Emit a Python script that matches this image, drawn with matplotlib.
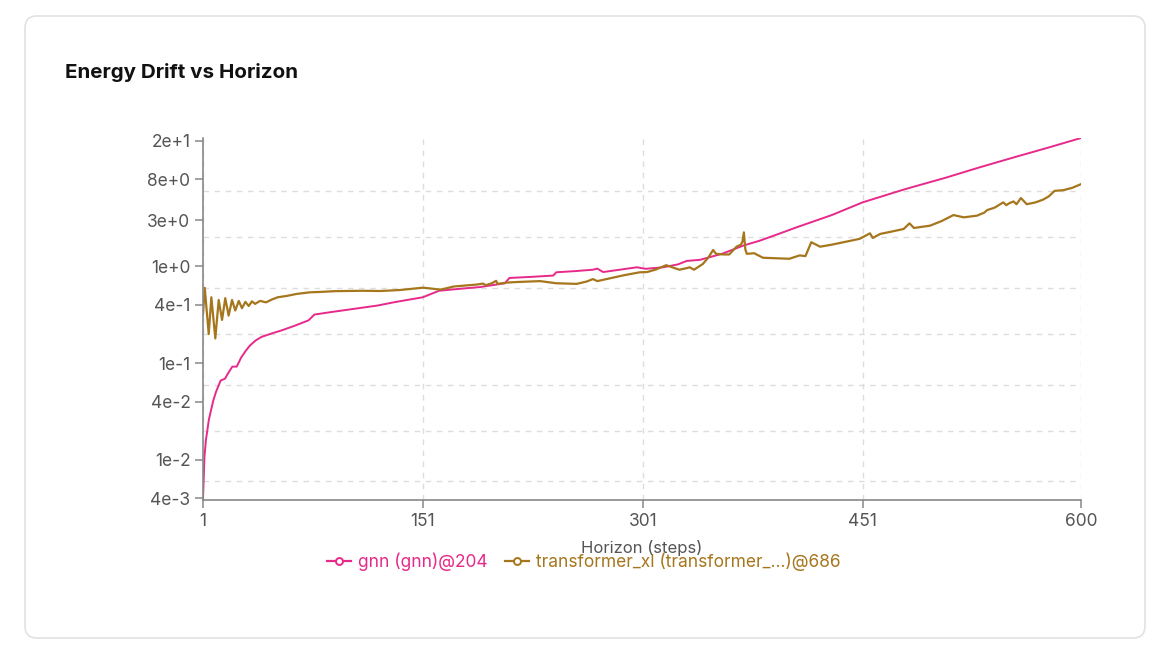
import matplotlib
matplotlib.use('Agg')
import matplotlib.pyplot as plt
from matplotlib.lines import Line2D
from matplotlib.patches import FancyBboxPatch
from matplotlib.ticker import FixedLocator, NullFormatter, FixedFormatter
from matplotlib.transforms import IdentityTransform

plt.rcParams['font.family'] = ['Inter', 'DejaVu Sans']

# values
gnn_steps = [1, 2, 3, 5, 8, 10, 13, 16, 18, 21, 24, 27, 30, 33, 37, 41, 48, 55,
             64, 73, 77, 90, 105, 120, 132, 151, 162, 175, 190, 207, 210, 225,
             240, 242, 255, 267, 270, 274, 297, 303, 315, 325, 331, 340, 355,
             370, 381, 393, 406, 430, 451, 480, 508, 530, 554, 578, 600]
gnn_values = [0.0040, 0.0108, 0.016, 0.026, 0.041, 0.051, 0.066, 0.069, 0.078,
              0.092, 0.092, 0.114, 0.133, 0.152, 0.172, 0.187, 0.203, 0.219,
              0.245, 0.277, 0.318, 0.340, 0.366, 0.394, 0.428, 0.48, 0.56,
              0.585, 0.612, 0.67, 0.76, 0.78, 0.805, 0.87, 0.895, 0.925, 0.95,
              0.875, 0.98, 0.945, 0.98, 1.05, 1.14, 1.17, 1.35, 1.65, 1.85,
              2.15, 2.54, 3.4, 4.6, 6.3, 8.3, 10.5, 13.4, 17.0, 21.3]

txl_steps = [1, 2.2, 4.9, 6.7, 9.4, 11.7, 14, 16.2, 18.5, 20.8, 23, 25.4, 27.6,
             29.9, 32.2, 34.4, 36.5, 40, 44, 48, 52, 58, 65, 74, 81, 91, 110,
             122, 135, 145, 151, 157, 163, 172, 180, 188, 192, 194, 198, 201,
             202, 208, 215, 231, 242, 256, 263, 267, 270, 278, 288, 299, 304,
             310, 317, 322, 326, 331, 333, 336, 342, 346, 349, 351, 356, 360,
             365, 368, 369, 370, 371, 372, 377, 383, 395, 401, 408, 412, 416,
             422, 430, 438, 449, 456, 458, 463, 470, 479, 483, 486, 497, 505,
             513, 520, 529, 534, 536, 541, 547, 549, 551, 554, 556, 559, 563,
             569, 574, 578, 582, 588, 594, 600]
txl_values = [0.32, 0.60, 0.20, 0.48, 0.18, 0.45, 0.28, 0.47, 0.31, 0.45, 0.35,
              0.44, 0.37, 0.43, 0.39, 0.435, 0.41, 0.44, 0.425, 0.455, 0.48,
              0.495, 0.52, 0.54, 0.545, 0.555, 0.56, 0.557, 0.57, 0.59, 0.603,
              0.59, 0.575, 0.62, 0.635, 0.65, 0.665, 0.64, 0.67, 0.71, 0.66,
              0.68, 0.69, 0.705, 0.67, 0.66, 0.70, 0.74, 0.705, 0.75, 0.81,
              0.87, 0.875, 0.93, 1.03, 0.97, 0.925, 0.96, 0.98, 0.925, 1.06,
              1.25, 1.48, 1.35, 1.33, 1.33, 1.6, 1.68, 1.8, 2.25, 1.5, 1.35,
              1.37, 1.23, 1.21, 1.2, 1.3, 1.28, 1.78, 1.6, 1.68, 1.78, 1.93,
              2.2, 1.97, 2.17, 2.28, 2.44, 2.79, 2.5, 2.64, 2.95, 3.4, 3.22,
              3.35, 3.6, 3.83, 4.05, 4.6, 4.3, 4.5, 4.7, 4.4, 5.1, 4.4, 4.6,
              4.9, 5.3, 6.05, 6.15, 6.5, 7.1]

x_ticks = [1, 151, 301, 451, 600]
y_ticks = [4e-3, 1e-2, 4e-2, 1e-1, 4e-1, 1e0, 3e0, 8e0, 2e1]
y_tick_labels = ['4e-3', '1e-2', '4e-2', '1e-1', '4e-1', '1e+0', '3e+0', '8e+0', '2e+1']
y_grid = [0.006, 0.02, 0.06, 0.2, 0.6, 2, 6, 20]

gnn_label = 'gnn (gnn)@204'
txl_label = 'transformer_xl (transformer_...)@686'
gnn_color = '#e7298a'
txl_color = '#a6761d'

W, H = 1164, 652
fig = plt.figure(figsize=(W / 100, H / 100), dpi=100)
fig.patch.set_facecolor('white')

card = FancyBboxPatch((25, 14), 1120, 622, boxstyle='round,pad=0,rounding_size=12',
                      transform=IdentityTransform(), facecolor='white',
                      edgecolor='#e2e2e2', linewidth=1.2, zorder=-10)
fig.patches.append(card)

fig.text(65 / W, 1 - 72 / H, 'Energy Drift vs Horizon', fontsize=14.8,
         fontweight='bold', color='#111111', va='center', ha='left')

ax = fig.add_axes([203 / W, 1 - 500 / H, (1081 - 203) / W, (500 - 138) / H])
ax.set_facecolor('none')

ax.plot(gnn_steps, gnn_values, color=gnn_color, linewidth=1.4)
ax.plot(txl_steps, txl_values, color=txl_color, linewidth=1.6)

ax.set_yscale('log')
ax.set_xlim(1, 600)
ax.set_ylim(3.84e-3, 21.3)

ax.xaxis.set_major_locator(FixedLocator(x_ticks))
ax.yaxis.set_major_locator(FixedLocator(y_ticks))
ax.yaxis.set_major_formatter(FixedFormatter(y_tick_labels))
ax.yaxis.set_minor_locator(FixedLocator(y_grid))
ax.yaxis.set_minor_formatter(NullFormatter())

ax.tick_params(axis='both', which='major', length=6, width=1.1, color='#888888',
               labelsize=12.5, labelcolor='#555555', pad=3)
ax.tick_params(axis='y', which='minor', length=0)

ax.grid(True, axis='x', which='major', color='#dddddd', linestyle=(0, (4, 4)), linewidth=1)
ax.grid(True, axis='y', which='minor', color='#dddddd', linestyle=(0, (4, 4)), linewidth=1)
ax.grid(False, axis='y', which='major')

for side in ['top', 'right']:
    ax.spines[side].set_visible(False)
for side in ['left', 'bottom']:
    ax.spines[side].set_color('#888888')
    ax.spines[side].set_linewidth(1.2)

fig.text(642 / W, 1 - 548 / H, 'Horizon (steps)', fontsize=12, color='#555555',
         ha='center', va='center')

handles = [
    Line2D([], [], color=gnn_color, linewidth=1.6, marker='o', markersize=5,
           markerfacecolor='white', markeredgewidth=1.4, label=gnn_label),
    Line2D([], [], color=txl_color, linewidth=1.6, marker='o', markersize=5,
           markerfacecolor='white', markeredgewidth=1.4, label=txl_label),
]
fig.legend(handles=handles, loc='center', bbox_to_anchor=(584 / W, 1 - 562 / H),
           ncol=2, frameon=False, fontsize=12.5, labelcolor='linecolor',
           handlelength=1.4, handletextpad=0.4, columnspacing=1.0)

fig.savefig('out.png', dpi=100, facecolor='white')
